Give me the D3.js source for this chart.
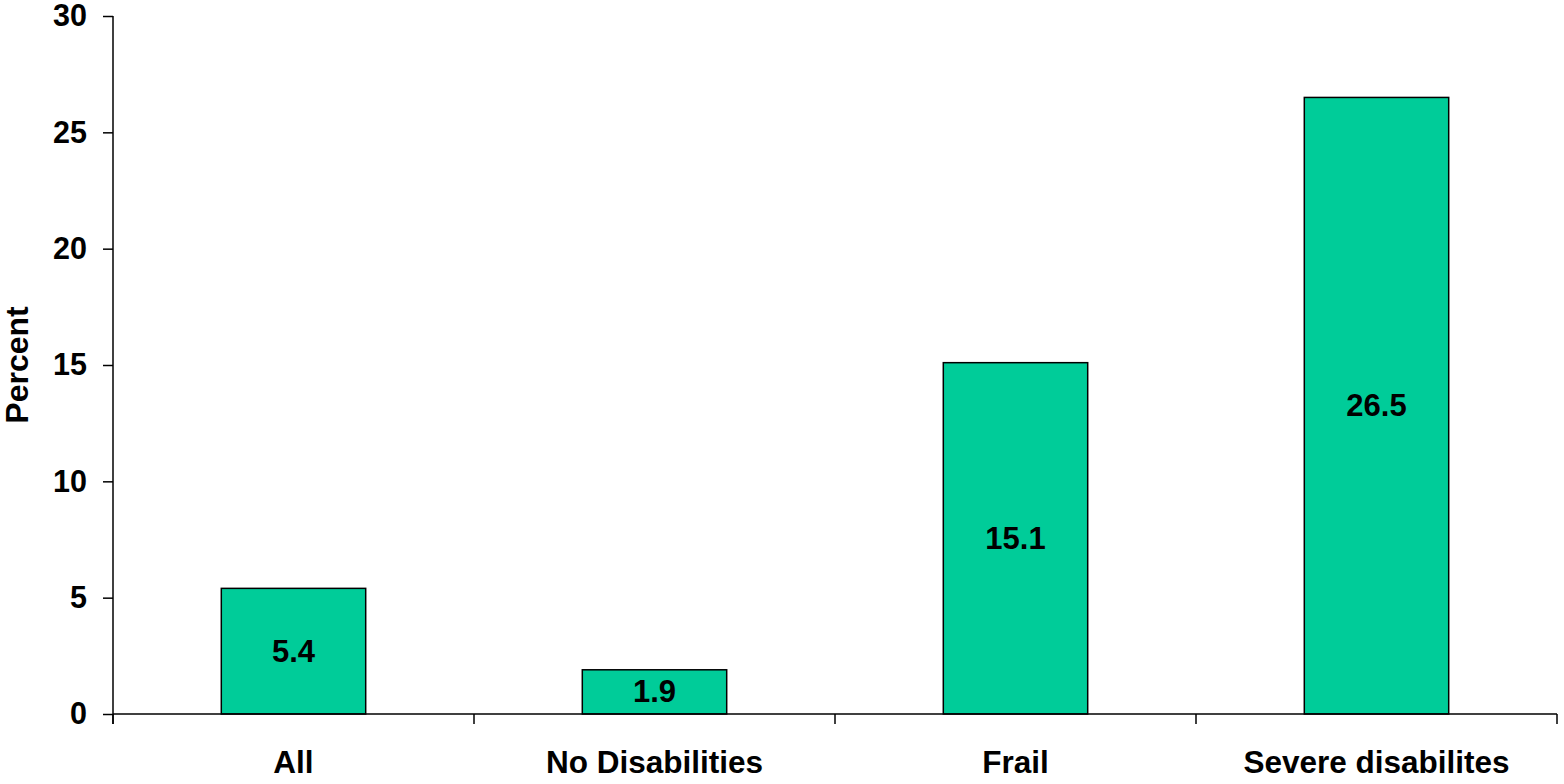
<!DOCTYPE html>
<html>
<head>
<meta charset="utf-8">
<script src="https://cdn.jsdelivr.net/npm/d3@7"></script>
<style>
  html, body { margin: 0; padding: 0; background: #fff; }
  svg { display: block; }
  text { font-family: "Liberation Sans", Arial, sans-serif; font-weight: bold; fill: #000; }
</style>
</head>
<body>
<svg id="chart" width="1564" height="784"></svg>
<script>
// Share of people in each group (percent)
const categories = ["All", "No Disabilities", "Frail", "Severe disabilites"];
const values = [5.4, 1.9, 15.1, 26.5];
const yTicks = [0, 5, 10, 15, 20, 25, 30];
const yLabel = "Percent";

const svg = d3.select("#chart");
const margin = { left: 113, right: 7, top: 16, bottom: 70 };
const W = 1564, H = 784;
const x0 = margin.left, x1 = W - margin.right;
const y0 = H - margin.bottom, y1 = margin.top;

const x = d3.scaleBand().domain(categories).range([x0, x1]).padding(0);
const y = d3.scaleLinear().domain([0, 30]).range([y0, y1]);
const barW = x.bandwidth() * 0.4;

// Bars
svg.append("g").selectAll("rect").data(values).join("rect")
  .attr("x", (d, i) => x(categories[i]) + (x.bandwidth() - barW) / 2)
  .attr("y", d => y(d))
  .attr("width", barW)
  .attr("height", d => y(0) - y(d))
  .attr("fill", "#00CC99")
  .attr("stroke", "#000")
  .attr("stroke-width", 1.5);

// Value labels centred in each bar
svg.append("g").selectAll("text").data(values).join("text")
  .attr("x", (d, i) => x(categories[i]) + x.bandwidth() / 2)
  .attr("y", d => (y(d) + y(0)) / 2)
  .attr("text-anchor", "middle")
  .attr("dominant-baseline", "central")
  .style("font-size", "31px")
  .text(d => d.toFixed(1));

// Y axis
const yAxis = d3.axisLeft(y).tickValues(yTicks).tickSize(10).tickPadding(16).tickFormat(d3.format("d"));
const gy = svg.append("g").attr("transform", `translate(${x0},0)`).call(yAxis);
gy.select(".domain").remove();
gy.selectAll(".tick line").attr("stroke", "#000").attr("stroke-width", 1.5);
gy.selectAll(".tick text").style("font-size", "30.5px").attr("font-family", null);
svg.append("line")
  .attr("x1", x0).attr("x2", x0).attr("y1", y1).attr("y2", y0 + 10)
  .attr("stroke", "#000").attr("stroke-width", 1.5);

// X axis baseline with ticks at band edges
svg.append("line")
  .attr("x1", x0).attr("x2", x1).attr("y1", y0).attr("y2", y0)
  .attr("stroke", "#000").attr("stroke-width", 1.5);
const edges = categories.map(c => x(c)).concat([x1]);
svg.append("g").selectAll("line").data(edges).join("line")
  .attr("x1", d => d).attr("x2", d => d)
  .attr("y1", y0).attr("y2", y0 + 10)
  .attr("stroke", "#000").attr("stroke-width", 1.5);

// Category labels
svg.append("g").selectAll("text").data(categories).join("text")
  .attr("x", d => x(d) + x.bandwidth() / 2)
  .attr("y", y0 + 59)
  .attr("text-anchor", "middle")
  .style("font-size", "31.5px")
  .text(d => d);

// Y axis title
svg.append("text")
  .attr("transform", `translate(28,${(y0 + y1) / 2}) rotate(-90)`)
  .attr("text-anchor", "middle")
  .style("font-size", "32px")
  .text(yLabel);
</script>
</body>
</html>
